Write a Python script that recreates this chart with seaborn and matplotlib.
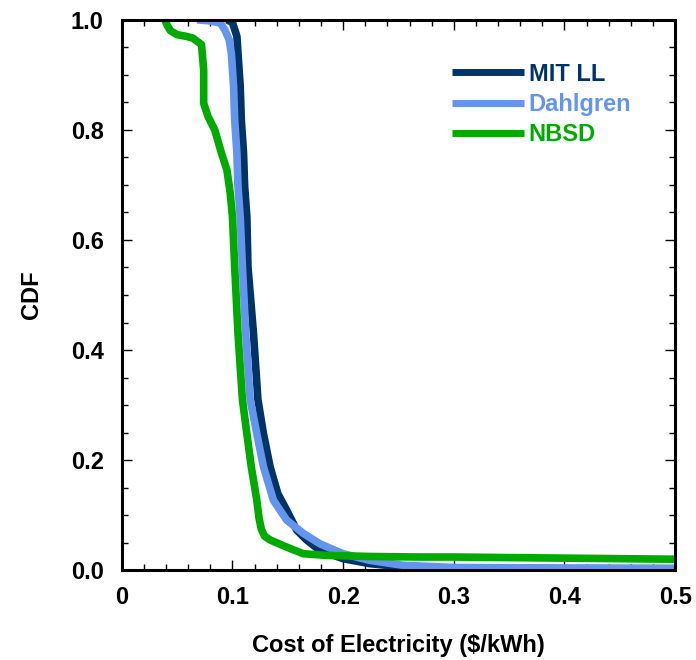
import numpy as np
import pandas as pd
import matplotlib
matplotlib.use("Agg")
import matplotlib.pyplot as plt
import seaborn as sns
from matplotlib.ticker import MultipleLocator

# values (cost $/kWh, CDF)
mit_x = [0.095, 0.100, 0.104, 0.105, 0.107, 0.108, 0.110, 0.111, 0.113, 0.114, 0.119,
         0.123, 0.128, 0.134, 0.141, 0.149, 0.158, 0.167, 0.179, 0.200, 0.224, 0.254,
         0.300, 0.400, 0.500]
mit_y = [1.000, 0.995, 0.970, 0.939, 0.879, 0.818, 0.758, 0.697, 0.642, 0.551, 0.430,
         0.310, 0.248, 0.188, 0.139, 0.109, 0.073, 0.055, 0.036, 0.021, 0.012, 0.006,
         0.004, 0.003, 0.003]

dahl_x = [0.068, 0.080, 0.089, 0.093, 0.097, 0.099, 0.101, 0.102, 0.104, 0.105, 0.107,
          0.109, 0.112, 0.116, 0.122, 0.128, 0.137, 0.149, 0.164, 0.179, 0.200, 0.224,
          0.254, 0.300, 0.400, 0.500]
dahl_y = [1.000, 0.998, 0.994, 0.982, 0.964, 0.939, 0.879, 0.818, 0.758, 0.697, 0.642,
          0.551, 0.430, 0.310, 0.248, 0.188, 0.127, 0.091, 0.067, 0.048, 0.030, 0.018,
          0.009, 0.005, 0.004, 0.003]

nbsd_x = [0.039, 0.041, 0.044, 0.050, 0.058, 0.064, 0.072, 0.074, 0.074, 0.078, 0.084,
          0.090, 0.095, 0.098, 0.100, 0.102, 0.105, 0.109, 0.113, 0.117, 0.122, 0.124,
          0.126, 0.129, 0.134, 0.149, 0.164, 0.185, 0.224, 0.269, 0.300, 0.400, 0.500]
nbsd_y = [1.000, 0.990, 0.980, 0.973, 0.970, 0.967, 0.955, 0.909, 0.848, 0.824, 0.800,
          0.758, 0.727, 0.685, 0.642, 0.551, 0.430, 0.310, 0.248, 0.188, 0.127, 0.095,
          0.075, 0.062, 0.055, 0.042, 0.030, 0.027, 0.025, 0.024, 0.024, 0.022, 0.020]

labels = ["MIT LL", "Dahlgren", "NBSD"]
colors = ["#003366", "#6495ED", "#00AA00"]

df = pd.concat([
    pd.DataFrame({"cost": mit_x, "cdf": mit_y, "site": labels[0]}),
    pd.DataFrame({"cost": dahl_x, "cdf": dahl_y, "site": labels[1]}),
    pd.DataFrame({"cost": nbsd_x, "cdf": nbsd_y, "site": labels[2]}),
])

sns.set_style("ticks")
plt.rcParams["font.family"] = ["Liberation Sans", "DejaVu Sans"]
plt.rcParams["text.color"] = "black"
plt.rcParams["axes.labelcolor"] = "black"
plt.rcParams["xtick.color"] = "black"
plt.rcParams["ytick.color"] = "black"

fig = plt.figure(figsize=(6.96, 6.6), dpi=100)
ax = fig.add_axes([0.175, 0.136, 0.795, 0.834])

sns.lineplot(data=df, x="cost", y="cdf", hue="site", palette=colors,
             estimator=None, sort=False, lw=5.5, ax=ax)
for ln in ax.get_lines():
    ln.set_solid_joinstyle("round")
    ln.set_solid_capstyle("butt")

ax.set_xlim(0, 0.5)
ax.set_ylim(0, 1.0)
ax.xaxis.set_minor_locator(MultipleLocator(0.02))
ax.yaxis.set_minor_locator(MultipleLocator(0.05))
ax.set_xticks([0, 0.1, 0.2, 0.3, 0.4, 0.5])
ax.set_xticklabels(["0", "0.1", "0.2", "0.3", "0.4", "0.5"])
ax.set_yticks([0, 0.2, 0.4, 0.6, 0.8, 1.0])
ax.set_yticklabels(["0.0", "0.2", "0.4", "0.6", "0.8", "1.0"])

ax.tick_params(which="both", direction="in", top=True, right=True, width=1)
ax.tick_params(which="major", length=7, labelsize=17)
ax.tick_params(axis="x", which="major", pad=11)
ax.tick_params(axis="y", which="major", pad=13)
ax.tick_params(which="minor", length=4)
for lab in ax.get_xticklabels() + ax.get_yticklabels():
    lab.set_fontweight("bold")
for sp in ax.spines.values():
    sp.set_visible(True)
    sp.set_linewidth(2.2)
    sp.set_color("black")

ax.set_xlabel("Cost of Electricity ($/kWh)", fontsize=17, fontweight="bold", labelpad=18)
ax.set_ylabel("CDF", fontsize=17, fontweight="bold", labelpad=20)

leg = ax.legend(loc="upper left", bbox_to_anchor=(0.597, 0.922), frameon=False,
                handlelength=3.05, handletextpad=0.2, labelspacing=0.3,
                borderpad=0, borderaxespad=0, labelcolor="linecolor",
                prop={"weight": "bold", "size": 17})
for h in leg.get_lines():
    h.set_linewidth(5)

fig.savefig("out.png", dpi=100)
